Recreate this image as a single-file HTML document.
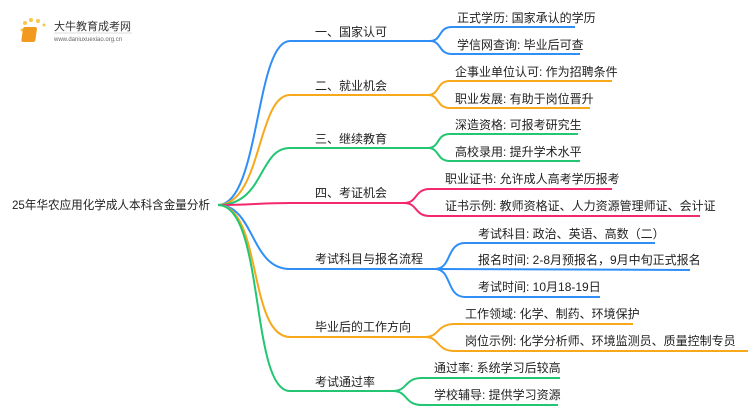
<!DOCTYPE html>
<html><head><meta charset="utf-8"><style>
body{margin:0;background:#fff;}
svg text{font-family:"Liberation Sans","Noto Sans CJK SC",sans-serif;font-size:12px;fill:#222;}
</style></head><body>
<svg width="750" height="410" viewBox="0 0 750 410" xmlns="http://www.w3.org/2000/svg" fill="none" stroke-width="2">
<g>
<circle cx="25" cy="23" r="2" fill="#f7c64a" stroke="none"/><circle cx="31" cy="20" r="2" fill="#f7c64a" stroke="none"/><circle cx="38" cy="21" r="2" fill="#f7c64a" stroke="none"/><circle cx="44" cy="25" r="1.5" fill="#f7c64a" stroke="none"/><circle cx="22" cy="30" r="1.5" fill="#f7c64a" stroke="none"/>
<rect x="27" y="27" width="14" height="15" rx="2" fill="#f29a1f" stroke="none" transform="skewX(-8)"/>
<text x="54" y="30" style="font-size:11px;fill:#333">大牛教育成考网</text>
<text x="54" y="41" style="font-size:6px;fill:#666">www.daniuxuexiao.org.cn</text>
<line x1="54" y1="33" x2="132" y2="33" stroke="#ddd" stroke-width="1"/>
</g>
<text x="12" y="209" textLength="198" lengthAdjust="spacingAndGlyphs">25年华农应用化学成人本科含金量分析</text>
<path d="M218 205 C260 205,255 41,290 41 L430 41" stroke="#2f8ff7"/>
<path d="M218 205 C262 205,257 95,290 95 L428 95" stroke="#f7a81b"/>
<path d="M218 205 C265 205,258 148,290 148 L428 148" stroke="#22c673"/>
<path d="M218 205 C250 205,260 203,290 203 L404 203" stroke="#f4286c"/>
<path d="M218 205 C255 205,250 269,290 269 L435 269" stroke="#2f8ff7"/>
<path d="M218 205 C262 205,248 337,290 337 L425 337" stroke="#f7a81b"/>
<path d="M218 205 C265 205,250 391,290 391 L393 391" stroke="#22c673"/>
<text x="315" y="36">一、国家认可</text>
<text x="315" y="90">二、就业机会</text>
<text x="315" y="143">三、继续教育</text>
<text x="315" y="197">四、考证机会</text>
<text x="315" y="263">考试科目与报名流程</text>
<text x="315" y="331">毕业后的工作方向</text>
<text x="315" y="386">考试通过率</text>
<g stroke="#2f8ff7">
<path d="M430 41 C442 41,438 27,452 27 L575 27"/>
<path d="M430 41 C442 41,438 54,452 54 L580 54"/>
</g>
<text x="457" y="22">正式学历: 国家承认的学历</text>
<text x="457" y="49">学信网查询: 毕业后可查</text>
<g stroke="#f7a81b">
<path d="M428 95 C440 95,436 81,450 81 L612 81"/>
<path d="M428 95 C440 95,436 108,450 108 L590 108"/>
</g>
<text x="455" y="76">企事业单位认可: 作为招聘条件</text>
<text x="455" y="103">职业发展: 有助于岗位晋升</text>
<g stroke="#22c673">
<path d="M428 148 C440 148,436 134,450 134 L578 134"/>
<path d="M428 148 C440 148,436 161,450 161 L580 161"/>
</g>
<text x="455" y="129">深造资格: 可报考研究生</text>
<text x="455" y="156">高校录用: 提升学术水平</text>
<g stroke="#f4286c">
<path d="M404 203 C418 203,414 189,430 189 L612 189"/>
<path d="M404 203 C418 203,414 216,430 216 L700 216"/>
</g>
<text x="445" y="183">职业证书: 允许成人高考学历报考</text>
<text x="445" y="210">证书示例: 教师资格证、人力资源管理师证、会计证</text>
<g stroke="#2f8ff7">
<path d="M435 269 C452 269,446 243,465 243 L655 243"/>
<path d="M435 269 L690 270"/>
<path d="M435 269 C452 269,446 297,465 297 L600 297"/>
</g>
<text x="478" y="238">考试科目: 政治、英语、高数（二）</text>
<text x="478" y="264">报名时间: 2-8月预报名，9月中旬正式报名</text>
<text x="478" y="291">考试时间: 10月18-19日</text>
<g stroke="#f7a81b">
<path d="M425 337 C440 337,436 324,455 324 L633 324"/>
<path d="M425 337 C440 337,436 351,455 351 L748 351"/>
</g>
<text x="465" y="318">工作领域: 化学、制药、环境保护</text>
<text x="465" y="345">岗位示例: 化学分析师、环境监测员、质量控制专员</text>
<g stroke="#22c673">
<path d="M393 391 C408 391,404 378,422 378 L560 378"/>
<path d="M393 391 C408 391,404 405,422 405 L558 405"/>
</g>
<text x="434" y="372">通过率: 系统学习后较高</text>
<text x="434" y="399">学校辅导: 提供学习资源</text>
</svg>
</body></html>
